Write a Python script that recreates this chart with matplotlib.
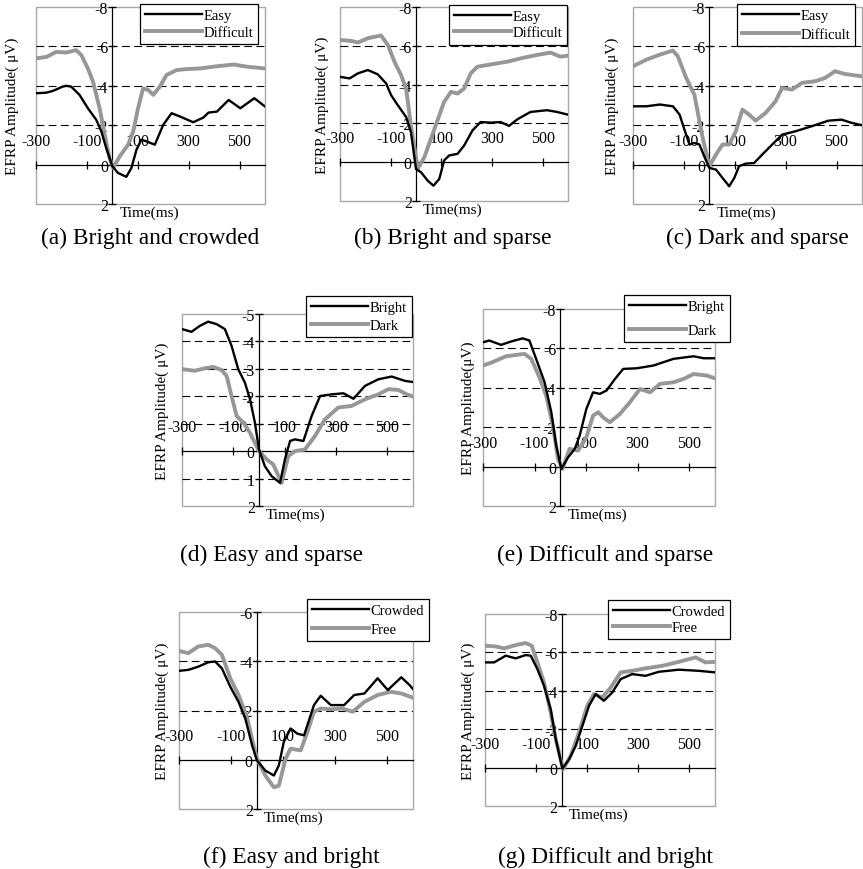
import matplotlib
matplotlib.use("Agg")
import matplotlib.pyplot as plt
from matplotlib.patches import Rectangle
from matplotlib.transforms import blended_transform_factory

plt.rcParams['font.family'] = ['Liberation Serif', 'DejaVu Serif']

# ---------------- data (time in ms, amplitude in µV) ----------------
t_a_easy = [-300,-260,-234,-195,-182,-162,-129,-96,-63,-43,-24,0,22,55,75,95,114,134,167,200,233,266,318,358,378,411,457,503,558,600]
v_a_easy = [-3.62,-3.65,-3.74,-3.96,-4.0,-3.96,-3.54,-2.86,-2.27,-1.68,-0.84,0.08,0.42,0.62,0.17,-0.76,-1.26,-1.18,-1.01,-2.02,-2.61,-2.44,-2.15,-2.39,-2.64,-2.69,-3.28,-2.86,-3.37,-2.95]
t_a_diff = [-300,-258,-221,-182,-142,-122,-96,-76,-50,-30,-11,3,29,62,82,101,121,141,161,187,213,253,292,345,397,476,529,600]
v_a_diff = [-5.39,-5.47,-5.72,-5.69,-5.81,-5.56,-4.88,-4.21,-2.86,-1.52,-0.34,0.17,-0.42,-1.01,-1.68,-2.86,-3.87,-3.79,-3.54,-3.96,-4.55,-4.8,-4.85,-4.88,-4.97,-5.08,-4.97,-4.88]

t_b_easy = [-300,-262,-229,-190,-151,-118,-98,-72,-39,-20,0,20,46,69,92,111,131,164,190,223,255,295,334,367,400,452,517,557,600]
v_b_easy = [-4.40,-4.32,-4.58,-4.75,-4.53,-4.06,-3.45,-2.94,-2.33,-1.55,0.35,0.52,0.95,1.21,0.86,-0.09,-0.35,-0.43,-0.86,-1.64,-2.07,-2.04,-2.07,-1.87,-2.21,-2.59,-2.68,-2.59,-2.45]
t_b_diff = [-300,-255,-229,-190,-138,-111,-85,-59,-39,-20,7,33,59,85,111,138,164,190,216,242,295,360,426,478,531,570,600]
v_b_diff = [-6.30,-6.25,-6.17,-6.39,-6.53,-6.04,-5.18,-4.49,-3.80,-1.90,0.35,-0.26,-1.21,-2.16,-3.11,-3.63,-3.54,-3.80,-4.58,-4.92,-5.04,-5.18,-5.39,-5.53,-5.65,-5.44,-5.49]

t_c_easy = [-300,-247,-195,-143,-117,-98,-78,-59,-39,-20,0,26,52,78,98,117,143,176,208,247,286,338,403,468,520,559,600]
v_c_easy = [-2.96,-2.96,-3.05,-2.96,-2.54,-1.78,-1.02,-1.10,-1.02,-0.42,0.17,0.25,0.68,1.10,0.68,0.08,-0.05,-0.08,-0.51,-1.02,-1.52,-1.69,-1.95,-2.23,-2.28,-2.12,-2.0]
t_c_diff = [-300,-247,-195,-143,-124,-91,-59,-26,0,26,52,78,104,130,156,182,221,260,286,325,364,416,455,494,533,600]
v_c_diff = [-4.99,-5.33,-5.58,-5.79,-5.50,-4.40,-3.55,-1.35,0.08,-0.51,-1.02,-1.02,-1.69,-2.79,-2.54,-2.23,-2.62,-3.21,-3.89,-3.81,-4.15,-4.23,-4.40,-4.74,-4.60,-4.48]

t_d_bright = [-300,-263,-230,-198,-165,-133,-107,-81,-55,-35,-16,0,23,49,82,101,121,140,173,205,238,283,329,368,413,465,517,569,600]
v_d_bright = [-4.45,-4.35,-4.57,-4.72,-4.63,-4.45,-3.84,-2.99,-2.5,-1.89,-1.04,-0.06,0.55,0.91,1.16,0.30,-0.37,-0.43,-0.37,-1.28,-2.01,-2.07,-2.11,-1.91,-2.38,-2.62,-2.72,-2.56,-2.52]
t_d_dark = [-300,-250,-211,-178,-146,-126,-107,-87,-61,-35,0,30,56,88,114,140,179,218,257,309,361,413,465,504,543,576,600]
v_d_dark = [-2.99,-2.93,-3.02,-3.07,-2.96,-2.74,-2.01,-1.28,-1.04,-0.67,0.0,0.30,0.49,1.16,0.18,0.0,-0.06,-0.55,-1.16,-1.59,-1.65,-1.89,-2.07,-2.26,-2.23,-2.07,-1.99]

t_e_bright = [-300,-276,-230,-191,-146,-120,-94,-61,-35,-16,4,30,56,75,101,127,153,179,212,244,296,361,439,517,556,600]
v_e_bright = [-6.31,-6.40,-6.18,-6.35,-6.51,-6.40,-5.47,-4.28,-2.76,-1.07,0.12,-0.47,-0.90,-1.57,-2.93,-3.77,-3.69,-3.86,-4.45,-4.96,-4.99,-5.13,-5.47,-5.6,-5.50,-5.50]
t_e_dark = [-300,-263,-211,-172,-139,-113,-81,-55,-29,-9,8,36,69,101,127,147,166,192,231,270,309,348,387,439,478,517,569,600]
v_e_dark = [-5.13,-5.30,-5.60,-5.67,-5.72,-5.47,-4.53,-3.60,-2.08,-0.39,0.12,-0.90,-0.81,-1.49,-2.59,-2.76,-2.50,-2.25,-2.67,-3.27,-3.94,-3.77,-4.20,-4.28,-4.45,-4.70,-4.62,-4.48]

t_f_crowd = [-300,-264,-226,-187,-161,-135,-103,-71,-45,-19,0,32,65,84,103,129,155,181,219,245,284,335,374,413,464,503,555,587,600]
v_f_crowd = [-3.61,-3.65,-3.78,-3.96,-3.99,-3.71,-2.97,-2.35,-1.67,-0.59,0.03,0.44,0.64,0.23,-0.72,-1.27,-1.06,-0.99,-2.22,-2.60,-2.22,-2.22,-2.63,-2.69,-3.31,-2.83,-3.35,-3.03,-2.87]
t_f_free = [-300,-264,-226,-187,-161,-135,-103,-71,-39,-13,0,32,65,84,110,129,168,194,219,245,284,329,368,413,464,516,555,600]
v_f_free = [-4.42,-4.33,-4.60,-4.67,-4.53,-4.26,-3.31,-2.63,-1.74,-0.59,-0.04,0.64,1.12,1.05,-0.04,-0.45,-0.38,-1.13,-1.95,-2.08,-2.05,-2.08,-1.95,-2.35,-2.63,-2.76,-2.69,-2.52]

t_g_crowd = [-300,-264,-219,-180,-141,-121,-95,-69,-43,-23,3,29,55,81,107,133,165,198,231,276,328,380,459,537,600]
v_g_crowd = [-5.48,-5.48,-5.83,-5.69,-5.86,-5.83,-5.13,-4.26,-3.04,-1.48,0.05,-0.43,-1.13,-2.17,-3.22,-3.83,-3.48,-3.91,-4.61,-4.87,-4.78,-4.99,-5.10,-5.04,-4.96]
t_g_free = [-300,-258,-225,-180,-141,-117,-95,-69,-43,-23,5,35,68,100,126,159,192,231,276,328,393,459,524,563,600]
v_g_free = [-6.35,-6.31,-6.21,-6.38,-6.49,-6.35,-5.48,-4.43,-2.87,-1.48,0.09,-0.61,-1.83,-3.22,-3.83,-3.65,-4.17,-4.96,-5.04,-5.17,-5.30,-5.51,-5.74,-5.48,-5.51]

xticks = [-300, -100, 100, 300, 500]
yticks_8 = [-8, -6, -4, -2, 0, 2]
yticks_5 = [-5, -4, -3, -2, -1, 0, 1, 2]
yticks_6 = [-6, -4, -2, 0, 2]

names_diff = ["Easy", "Difficult"]
names_light = ["Bright", "Dark"]
names_crowd = ["Crowded", "Free"]
captions = ["(a) Bright and crowded", "(b) Bright and sparse", "(c) Dark and sparse",
            "(d) Easy and sparse", "(e) Difficult and sparse",
            "(f) Easy and bright", "(g) Difficult and bright"]

# ---------------- layout ----------------
W, H = 863, 870
fig = plt.figure(figsize=(W / 100, H / 100), dpi=100)

BLACK = "#000000"
GRAY = "#979797"


def px_axes(x0, y0, x1, y1):
    return fig.add_axes([x0 / W, 1 - y1 / H, (x1 - x0) / W, (y1 - y0) / H])


def panel(box, t1, v1, t2, v2, names, yticks, hidden, caption, cap_xy,
          leg_xy, leg_sp, ylab_off, ylabel):
    ax = px_axes(*box)
    ax.plot(t1, v1, color=BLACK, lw=1.7, label=names[0], zorder=4)
    ax.plot(t2, v2, color=GRAY, lw=2.8, label=names[1], zorder=3)
    ax.set_xlim(-300, 600)
    ax.set_ylim(yticks[-1], yticks[0])  # inverted: negative up
    for yv in yticks[1:-1]:
        if yv != 0:
            ax.axhline(yv, color="black", lw=0.8, dashes=(7, 4), zorder=1)
    # frame
    ax.add_patch(Rectangle((0, 0), 1, 1, transform=ax.transAxes, fill=False,
                           edgecolor="#a8a8a8", lw=1.0, zorder=0, clip_on=False))
    for s in ("right", "bottom"):
        ax.spines[s].set_visible(False)
    ax.spines["left"].set_position(("data", 0))
    ax.spines["top"].set_position(("data", 0))
    ax.spines["left"].set_linewidth(0.9)
    ax.spines["top"].set_linewidth(0.9)
    ax.xaxis.set_ticks_position("top")
    ax.set_xticks(xticks)
    ax.set_xticklabels([str(v) for v in xticks])
    ax.set_yticks(yticks)
    ax.set_yticklabels(["" if v in hidden else str(v) for v in yticks])
    ax.tick_params(axis="x", direction="inout", length=6, width=0.9, pad=8.5,
                   labelsize=11.5)
    ax.tick_params(axis="y", direction="inout", length=6, width=0.9, pad=0,
                   labelsize=11.5)
    # y label
    ax.annotate(ylabel, xy=(0, 0.5), xycoords="axes fraction",
                xytext=(ylab_off, 0), textcoords="offset pixels",
                rotation=90, ha="center", va="center", fontsize=11)
    # x label
    tr = blended_transform_factory(ax.transData, ax.transAxes)
    ax.annotate("Time(ms)", xy=(0, 0), xycoords=tr, xytext=(7, -2),
                textcoords="offset pixels", ha="left", va="top", fontsize=11)
    leg = ax.legend(loc="upper right", bbox_to_anchor=(leg_xy[0] / W, 1 - leg_xy[1] / H),
                    bbox_transform=fig.transFigure, frameon=True, fancybox=False,
                    edgecolor="black", framealpha=1, fontsize=10.5,
                    handlelength=3.9, handletextpad=0.1, labelspacing=leg_sp,
                    borderpad=0.35, borderaxespad=0)
    leg.get_frame().set_linewidth(0.9)
    leg.set_zorder(10)
    fig.text(cap_xy[0] / W, 1 - cap_xy[1] / H, caption, ha="center", va="center",
             fontsize=16.8)
    return ax


YL1 = "EFRP Amplitude( μV)"
YL2 = "EFRP Amplitude(μV)"

panel((36, 8, 265, 205), t_a_easy, v_a_easy, t_a_diff, v_a_diff, names_diff, yticks_8, [],
      captions[0], (150, 238), (258, 5), 0.25, -24, YL1)
panel((340, 8, 568, 202), t_b_easy, v_b_easy, t_b_diff, v_b_diff, names_diff, yticks_8, [],
      captions[1], (453, 238), (567, 6), 0.2, -18, YL1)
panel((633, 8, 862, 205), t_c_easy, v_c_easy, t_c_diff, v_c_diff, names_diff, yticks_8, [],
      captions[2], (757, 238), (855, 5), 0.35, -21, YL1)
panel((182, 315, 413, 507), t_d_bright, v_d_bright, t_d_dark, v_d_dark, names_light, yticks_5, [-1],
      captions[3], (271, 555), (412, 297), 0.3, -20, YL1)
panel((483, 310, 715, 507), t_e_bright, v_e_bright, t_e_dark, v_e_dark, names_light, yticks_8, [],
      captions[4], (605, 555), (730, 296), 0.7, -15, YL2)
panel((179, 613, 413, 810), t_f_crowd, v_f_crowd, t_f_free, v_f_free, names_crowd, yticks_6, [],
      captions[5], (291, 857), (429, 600), 0.35, -17, YL1)
panel((485, 615, 715, 807), t_g_crowd, v_g_crowd, t_g_free, v_g_free, names_crowd, yticks_8, [],
      captions[6], (605, 857), (730, 601), 0.15, -17, YL1)

fig.savefig("out.png", dpi=100)
